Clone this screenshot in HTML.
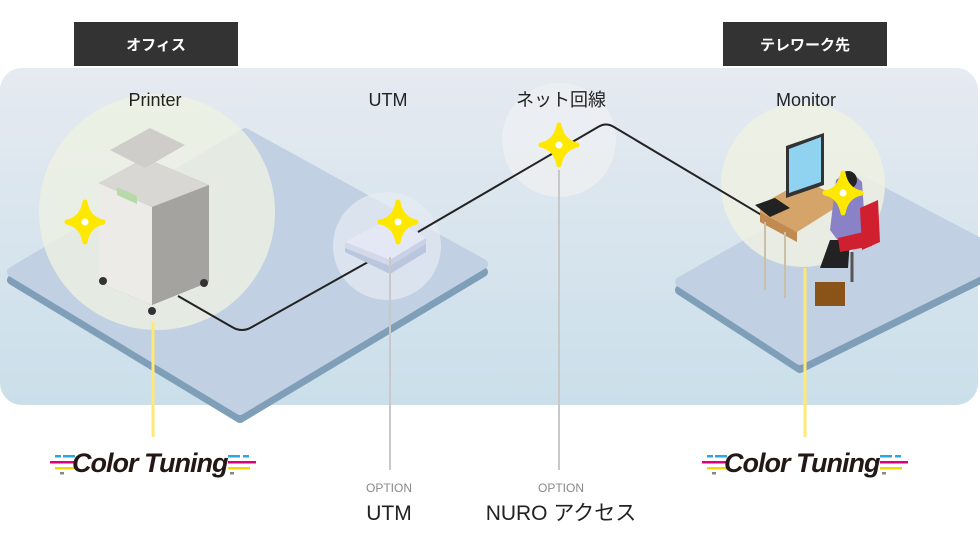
<!DOCTYPE html>
<html><head><meta charset="utf-8"><style>
html,body{margin:0;padding:0;background:#fff;width:980px;height:550px;overflow:hidden}
</style></head><body>
<svg width="980" height="550" viewBox="0 0 980 550" xmlns="http://www.w3.org/2000/svg" font-family="Liberation Sans, Noto Sans CJK JP, sans-serif">
<defs>
<linearGradient id="bg" x1="0" y1="0" x2="0" y2="1">
<stop offset="0" stop-color="#e6eaf1"/><stop offset="1" stop-color="#cadfea"/></linearGradient>
<g id="spark"><path d="M0,-20 Q3,-3 18,0 Q3,3 0,20 Q-3,3 -18,0 Q-3,-3 0,-20Z" fill="#ffe800" stroke="#ffe800" stroke-width="5" stroke-linejoin="round"/><circle r="3.5" fill="#fff"/></g>
<g id="logo">
<rect x="5" y="0" width="6" height="2.5" fill="#2aa7e0"/><rect x="13" y="0" width="12" height="2.5" fill="#2aa7e0"/>
<rect x="0" y="6" width="25" height="2.5" fill="#e0007a"/>
<rect x="5" y="12" width="20" height="2.5" fill="#f0d800"/>
<rect x="10" y="17" width="4" height="2.5" fill="#888"/>
<text x="22" y="17" font-size="27" font-weight="bold" font-style="italic" fill="#231815" letter-spacing="-1">Color Tuning</text>
<rect x="178" y="0" width="12" height="2.5" fill="#2aa7e0"/><rect x="193" y="0" width="6" height="2.5" fill="#2aa7e0"/>
<rect x="178" y="6" width="28" height="2.5" fill="#e0007a"/>
<rect x="178" y="12" width="22" height="2.5" fill="#f0d800"/>
<rect x="180" y="17" width="4" height="2.5" fill="#888"/>
</g>
</defs>
<rect x="0" y="68" width="978" height="337" rx="22" fill="url(#bg)"/>
<rect x="74" y="22" width="164" height="44" fill="#333"/>
<text x="156" y="50" font-size="15" font-weight="bold" fill="#fff" text-anchor="middle">オフィス</text>
<rect x="723" y="22" width="164" height="44" fill="#333"/>
<text x="805" y="50" font-size="15" font-weight="bold" fill="#fff" text-anchor="middle">テレワーク先</text>
<!-- platforms -->
<path d="M12,280 L245,141 L483,272 L240,418 Z" fill="#7f9fb8" stroke="#7f9fb8" stroke-width="10" stroke-linejoin="round"/>
<path d="M12,272 L245,133 L483,264 L240,410 Z" fill="#c1d0e2" stroke="#c1d0e2" stroke-width="10" stroke-linejoin="round"/>
<path d="M680,290 L860,188 L978,250 L978,280 L800,368 Z" fill="#7f9fb8" stroke="#7f9fb8" stroke-width="10" stroke-linejoin="round"/>
<path d="M680,282 L860,180 L978,242 L978,272 L800,360 Z" fill="#c1d0e2" stroke="#c1d0e2" stroke-width="10" stroke-linejoin="round"/>
<!-- circles -->
<circle cx="157" cy="212" r="118" fill="#eef1e2" opacity="0.8"/>
<circle cx="387" cy="246" r="54" fill="#e6ebf3" opacity="0.7"/>
<circle cx="559" cy="140" r="57" fill="#f0f1f2" opacity="0.7"/>
<circle cx="803" cy="185" r="82" fill="#eef1e2" opacity="0.85"/>
<!-- cable -->
<path d="M178,296 L232,327 Q242,333 252,327 L368,262" fill="none" stroke="#222" stroke-width="2"/>
<path d="M418,232 L598,127 Q606,122 614,127 L780,226" fill="none" stroke="#222" stroke-width="2"/>
<!-- printer -->
<g>
<path d="M99,183 L145,158 L209,185 L209,282 L152,305 L99,283 Z" fill="#9a9894"/>
<path d="M99,183 L152,207 L152,305 L99,283 Z" fill="#ecebe8"/>
<path d="M152,207 L209,185 L209,282 L152,305Z" fill="#a5a39f"/>
<path d="M99,183 L145,158 L209,185 L152,207Z" fill="#d8d7d3"/>
<path d="M110,150 L150,128 L185,145 L145,168Z" fill="#cfcdc9"/>
<path d="M117,187 L137,196 L137,204 L117,195Z" fill="#b8d9a8"/>
<circle cx="103" cy="281" r="4" fill="#333"/><circle cx="152" cy="311" r="4" fill="#333"/><circle cx="204" cy="283" r="4" fill="#333"/>
</g>
<!-- UTM box -->
<path d="M345,246 L390,222 L426,242 L426,252 L390,274 L345,252Z" fill="#b9c6de"/>
<path d="M345,242 L390,218 L426,238 L390,260Z" fill="#e4e8f4"/>
<path d="M345,242 L390,260 L390,266 L345,248Z" fill="#d3d9ea"/>
<path d="M390,260 L426,238 L426,244 L390,266Z" fill="#c9d1e6"/>
<!-- desk scene -->
<path d="M760,205 L805,180 L840,198 L840,205 L797,232 L760,212Z" fill="#d4a468"/>
<path d="M760,212 L797,232 L797,242 L760,222Z" fill="#c08a50"/>
<line x1="765" y1="222" x2="765" y2="290" stroke="#cbbfa8" stroke-width="2"/>
<line x1="785" y1="232" x2="785" y2="298" stroke="#cbbfa8" stroke-width="2"/>
<path d="M786,146 L824,133 L824,185 L786,198Z" fill="#333"/>
<path d="M789,149 L821,137 L821,182 L789,193Z" fill="#8fd3f0"/>
<path d="M755,205 L775,198 L790,208 L770,217Z" fill="#222"/>
<path d="M836,180 Q850,168 862,182 L866,240 L845,250 L830,230Z" fill="#8a82c6"/>
<circle cx="848" cy="180" r="9" fill="#222"/>
<path d="M830,240 L850,240 L848,268 L820,268Z" fill="#222"/>
<path d="M860,208 L878,200 L880,242 L862,250Z" fill="#d02030"/>
<path d="M838,238 L872,230 L872,246 L840,252Z" fill="#d02030"/>
<line x1="852" y1="252" x2="852" y2="282" stroke="#555" stroke-width="3"/>
<rect x="815" y="282" width="30" height="24" fill="#8a5418"/>
<!-- sparkles -->
<use href="#spark" x="85" y="222"/>
<use href="#spark" x="398" y="222"/>
<use href="#spark" x="559" y="145"/>
<use href="#spark" x="843" y="193"/>
<!-- vertical lines -->
<line x1="153" y1="322" x2="153" y2="437" stroke="#ffe874" stroke-width="3"/>
<line x1="390" y1="257" x2="390" y2="470" stroke="#c8c8c8" stroke-width="2"/>
<line x1="559" y1="170" x2="559" y2="470" stroke="#c8c8c8" stroke-width="2"/>
<line x1="805" y1="268" x2="805" y2="437" stroke="#ffe874" stroke-width="3"/>
<!-- labels -->
<g font-size="18" fill="#222" text-anchor="middle">
<text x="155" y="106">Printer</text>
<text x="388" y="106">UTM</text>
<text x="561" y="106">ネット回線</text>
<text x="806" y="106">Monitor</text>
</g>
<g font-size="12" fill="#888" text-anchor="middle">
<text x="389" y="492">OPTION</text><text x="561" y="492">OPTION</text>
</g>
<g font-size="21" fill="#222" text-anchor="middle">
<text x="389" y="520">UTM</text><text x="561" y="520">NURO アクセス</text>
</g>
<use href="#logo" x="50" y="455"/>
<use href="#logo" x="702" y="455"/>
</svg>
</body></html>
